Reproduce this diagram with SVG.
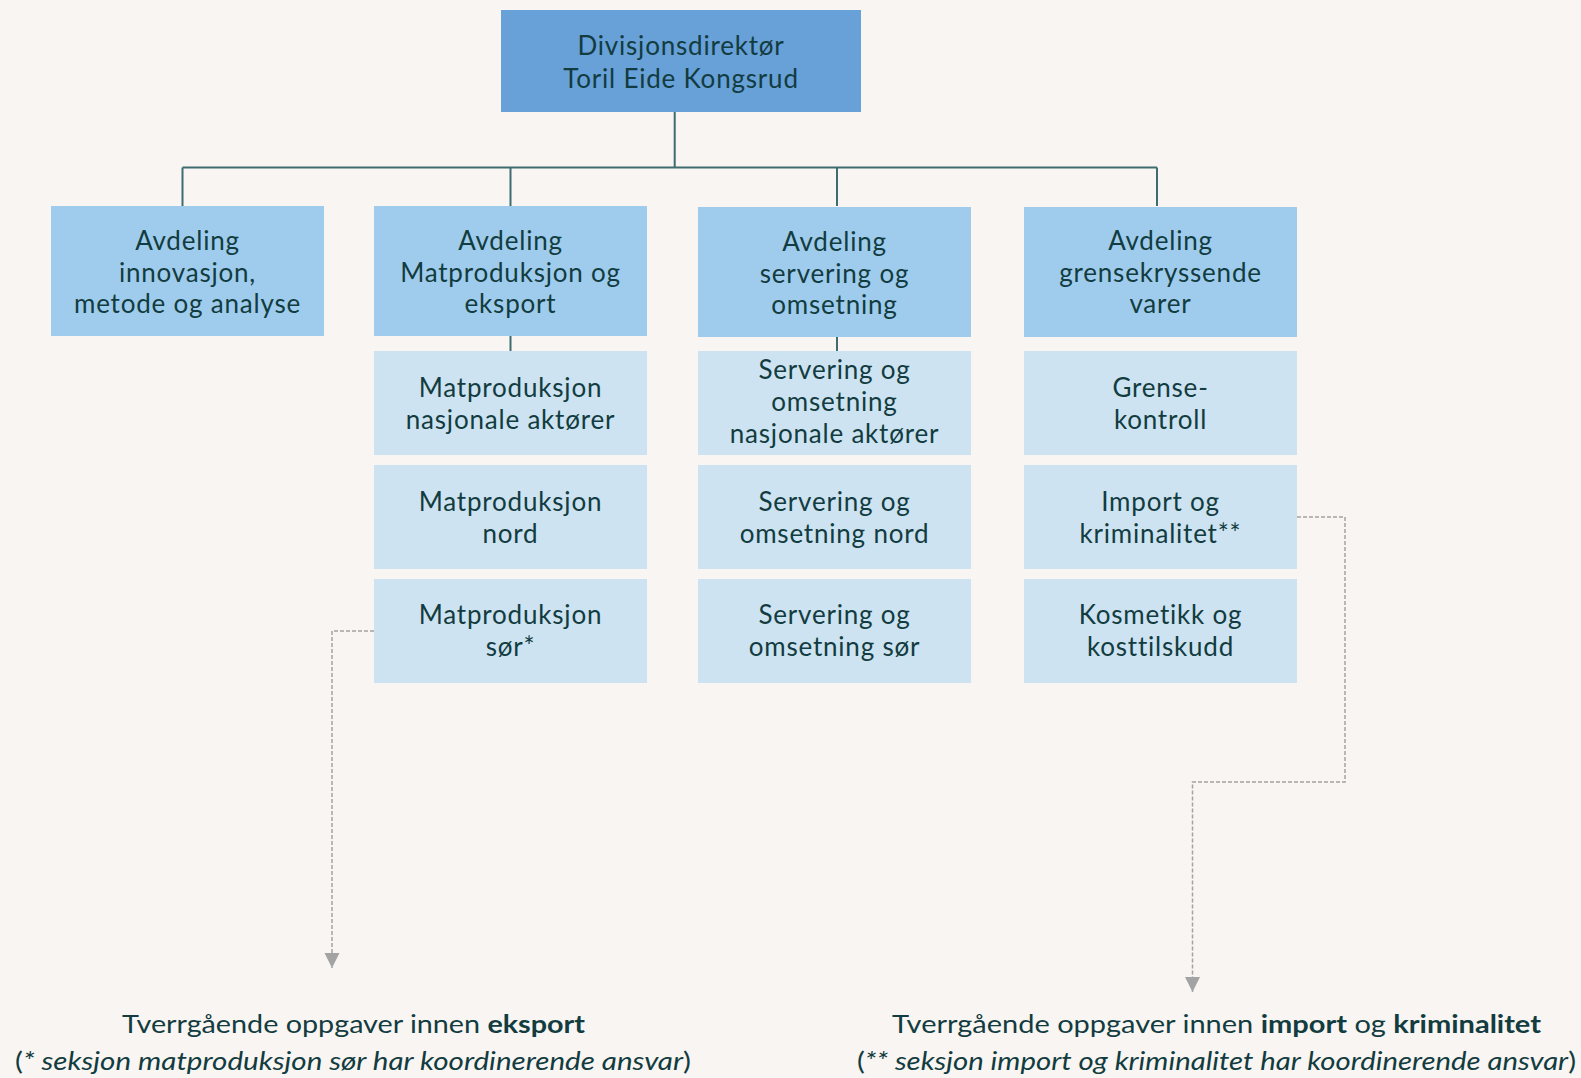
<svg xmlns="http://www.w3.org/2000/svg" width="1581" height="1078" viewBox="0 0 1581 1078">
<defs>
<style>
.bg{fill:#f8f5f2}
.top{fill:#68a0d8}
.dept{fill:#9fcced}
.sub{fill:#cde3f1}
.t{font-family:Lato,"Noto Sans","Liberation Sans",sans-serif;font-size:26px;letter-spacing:0.8px;fill:#123c40;text-anchor:middle}
.b{font-family:Lato,"Noto Sans","Liberation Sans",sans-serif;font-size:25px;fill:#123c40;text-anchor:middle}
.bold{font-weight:bold}
.it{font-style:italic}
.conn{stroke:#3f6c70;stroke-width:2;fill:none}
.dash{stroke:#a3a3a3;stroke-width:1.5;fill:none;stroke-dasharray:4 2}
</style>
<marker id="arr" markerWidth="16" markerHeight="16" refX="15" refY="7.5" orient="auto" markerUnits="userSpaceOnUse">
<path d="M0,0 L15,7.5 L0,15 Z" fill="#a3a3a3"/>
</marker>
</defs>
<rect class="bg" x="0" y="0" width="1581" height="1078"/>

<g id="connectors">
<path class="conn" d="M674.7,112 V167.5 M182.5,167.5 H1157 M182.5,167.5 V206 M510.5,167.5 V206 M837,167.5 V206 M1157,167.5 V206 M510.5,336 V351 M837,336 V351"/>
<path class="dash" d="M374,631 H332 V968" marker-end="url(#arr)"/>
<path class="dash" d="M1297,517 H1345 V782 H1192.5 V992" marker-end="url(#arr)"/>
</g>

<g id="n-director">
<rect class="top" x="501" y="10" width="360" height="102"/>
<text class="t" x="681" y="55">Divisjonsdirektør</text>
<text class="t" x="681" y="88">Toril Eide Kongsrud</text>
</g>

<g id="n-innovasjon">
<rect class="dept" x="51" y="206" width="273" height="130"/>
<text class="t" x="187.5" y="250">Avdeling</text>
<text class="t" x="187.5" y="282">innovasjon,</text>
<text class="t" x="187.5" y="313">metode og analyse</text>
</g>

<g id="n-matproduksjon">
<rect class="dept" x="374" y="206" width="273" height="130"/>
<text class="t" x="510.5" y="250">Avdeling</text>
<text class="t" x="510.5" y="282">Matproduksjon og</text>
<text class="t" x="510.5" y="313">eksport</text>
</g>

<g id="n-servering">
<rect class="dept" x="698" y="207" width="273" height="130"/>
<text class="t" x="834.5" y="251">Avdeling</text>
<text class="t" x="834.5" y="283">servering og</text>
<text class="t" x="834.5" y="314">omsetning</text>
</g>

<g id="n-grense">
<rect class="dept" x="1024" y="207" width="273" height="130"/>
<text class="t" x="1160.5" y="250">Avdeling</text>
<text class="t" x="1160.5" y="282">grensekryssende</text>
<text class="t" x="1160.5" y="313">varer</text>
</g>

<g id="n-mat-nasjonale">
<rect class="sub" x="374" y="351" width="273" height="104"/>
<text class="t" x="510.5" y="397">Matproduksjon</text>
<text class="t" x="510.5" y="429">nasjonale aktører</text>
</g>
<g id="n-mat-nord">
<rect class="sub" x="374" y="465" width="273" height="104"/>
<text class="t" x="510.5" y="511">Matproduksjon</text>
<text class="t" x="510.5" y="543">nord</text>
</g>
<g id="n-mat-sor">
<rect class="sub" x="374" y="579" width="273" height="104"/>
<text class="t" x="510.5" y="624">Matproduksjon</text>
<text class="t" x="510.5" y="656">sør*</text>
</g>

<g id="n-serv-nasjonale">
<rect class="sub" x="698" y="351" width="273" height="104"/>
<text class="t" x="834.5" y="379">Servering og</text>
<text class="t" x="834.5" y="411">omsetning</text>
<text class="t" x="834.5" y="443">nasjonale aktører</text>
</g>
<g id="n-serv-nord">
<rect class="sub" x="698" y="465" width="273" height="104"/>
<text class="t" x="834.5" y="511">Servering og</text>
<text class="t" x="834.5" y="543">omsetning nord</text>
</g>
<g id="n-serv-sor">
<rect class="sub" x="698" y="579" width="273" height="104"/>
<text class="t" x="834.5" y="624">Servering og</text>
<text class="t" x="834.5" y="656">omsetning sør</text>
</g>

<g id="n-grensekontroll">
<rect class="sub" x="1024" y="351" width="273" height="104"/>
<text class="t" x="1160.5" y="397">Grense-</text>
<text class="t" x="1160.5" y="429">kontroll</text>
</g>
<g id="n-import">
<rect class="sub" x="1024" y="465" width="273" height="104"/>
<text class="t" x="1160.5" y="511">Import og</text>
<text class="t" x="1160.5" y="543">kriminalitet**</text>
</g>
<g id="n-kosmetikk">
<rect class="sub" x="1024" y="579" width="273" height="104"/>
<text class="t" x="1160.5" y="624">Kosmetikk og</text>
<text class="t" x="1160.5" y="656">kosttilskudd</text>
</g>

<g id="n-eksport-note">
<text class="b" x="353.5" y="1033" textLength="463" lengthAdjust="spacingAndGlyphs">Tverrgående oppgaver innen <tspan class="bold">eksport</tspan></text>
<text class="b" x="353" y="1070" textLength="676" lengthAdjust="spacingAndGlyphs">(<tspan class="it">* seksjon matproduksjon sør har koordinerende ansvar</tspan>)</text>
</g>
<g id="n-import-note">
<text class="b" x="1216.5" y="1033" textLength="649" lengthAdjust="spacingAndGlyphs">Tverrgående oppgaver innen <tspan class="bold">import</tspan> og <tspan class="bold">kriminalitet</tspan></text>
<text class="b" x="1216.5" y="1070" textLength="719" lengthAdjust="spacingAndGlyphs">(<tspan class="it">** seksjon import og kriminalitet har koordinerende ansvar</tspan>)</text>
</g>
</svg>
